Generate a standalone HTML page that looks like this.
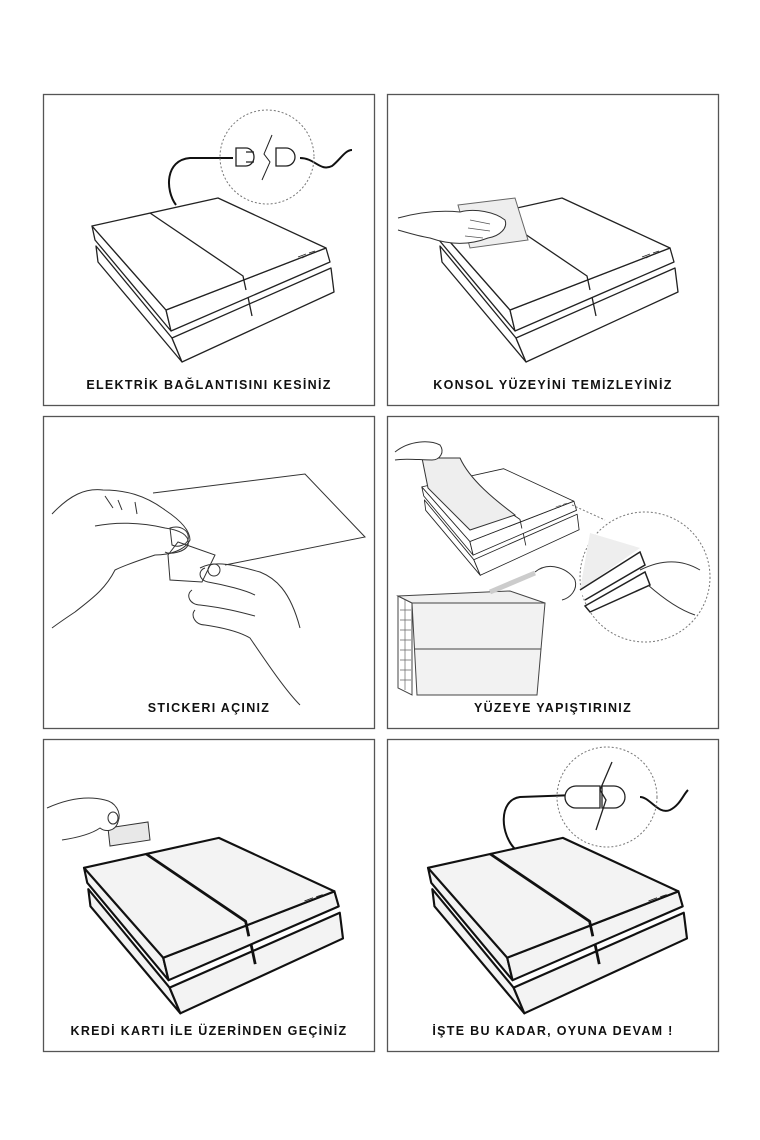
<!DOCTYPE html>
<html><head><meta charset="utf-8"><style>
html,body{margin:0;padding:0;background:#fff}
svg{display:block}
text{font-family:"Liberation Sans",sans-serif;font-weight:bold;font-size:12.5px;letter-spacing:1.3px;fill:#111}
</style></head><body>
<svg width="760" height="1140" viewBox="0 0 760 1140" xmlns="http://www.w3.org/2000/svg">
<defs>
<g id="ps4" fill="#fff" stroke="#222" stroke-width="1.3" stroke-linejoin="round">
<path d="M96,246 L172,338 L182,362 L98,262 Z"/>
<path d="M172,338 L331,268 L334,292 L182,362 Z"/>
<path d="M92,226 L166,310 L171,331 L95,240 Z"/>
<path d="M166,310 L326,248 L330,262 L171,331 Z"/>
<path d="M92,226 L218,198 L326,248 L166,310 Z"/>
<path d="M150,213 L243,276 L246,290 M248,297 L252,316" fill="none"/>
<path d="M298,257 l8,-3 M302,258 l6,-3 M309,253 l6,-2" stroke-width="0.7" fill="none"/>
</g>
<g id="ps4d" fill="#f3f3f3" stroke="#111" stroke-width="2" stroke-linejoin="round">
<path d="M96,246 L172,338 L182,362 L98,262 Z"/>
<path d="M172,338 L331,268 L334,292 L182,362 Z"/>
<path d="M92,226 L166,310 L171,331 L95,240 Z"/>
<path d="M166,310 L326,248 L330,262 L171,331 Z"/>
<path d="M92,226 L218,198 L326,248 L166,310 Z"/>
<path d="M150,213 L243,276 L246,290 M248,297 L252,316" fill="none" stroke-width="2.6"/>
<path d="M298,257 l8,-3 M302,258 l6,-3 M309,253 l6,-2" stroke-width="0.7" fill="none"/>
</g>
</defs>
<g fill="none" stroke="#555" stroke-width="1.3">
<rect x="43.5" y="94.5" width="331" height="311"/>
<rect x="387.5" y="94.5" width="331" height="311"/>
<rect x="43.5" y="416.5" width="331" height="312"/>
<rect x="387.5" y="416.5" width="331" height="312"/>
<rect x="43.5" y="739.5" width="331" height="312"/>
<rect x="387.5" y="739.5" width="331" height="312"/>
</g>

<!-- Panel 1 -->
<path d="M176,205 C165,190 165,160 190,158 L233,158 M300,158 C315,158 320,172 332,166 C340,160 345,150 352,150" fill="none" stroke="#111" stroke-width="2"/>
<circle cx="267" cy="157" r="47" fill="none" stroke="#777" stroke-width="1" stroke-dasharray="2,2"/>
<path d="M236,148 h10 a8,9 0 0 1 0,18 h-10 z M246,152 h8 M246,162 h8" fill="#fff" stroke="#222" stroke-width="1.3"/>
<path d="M286,148 h-10 v18 h10 a9,9 0 0 0 0,-18z" fill="#fff" stroke="#222" stroke-width="1.3"/>
<path d="M272,135 L264,154 L270,162 L262,180" fill="none" stroke="#222" stroke-width="1"/>
<use href="#ps4"/>
<text x="209" y="389" text-anchor="middle">ELEKTRİK BAĞLANTISINI KESİNİZ</text>

<!-- Panel 2 -->
<use href="#ps4" transform="translate(344,0)"/>
<path d="M458,205 L515,198 L528,240 L470,248 Z" fill="#eee" stroke="#666" stroke-width="1"/>
<path d="M398,218 C420,212 440,210 460,212 C475,208 495,212 505,220 C508,228 500,236 488,238 C470,245 450,245 430,238 C418,236 405,232 398,230" fill="#fff" stroke="#333" stroke-width="1"/>
<path d="M470,220 l20,4 M468,228 l22,3 M465,236 l18,2" stroke="#555" stroke-width="0.8"/>
<text x="553" y="389" text-anchor="middle">KONSOL YÜZEYİNİ TEMİZLEYİNİZ</text>

<!-- Panel 3 -->
<path d="M153,493 L305,474 L365,537 L225,565" fill="none" stroke="#333" stroke-width="1"/>
<path d="M168,555 L178,542 L215,555 L202,582 L170,580 Z" fill="#fff" stroke="#333" stroke-width="1"/>
<g fill="none" stroke="#333" stroke-width="1">
<path d="M52,514 C70,495 85,488 103,490 C125,490 145,495 165,510 C180,520 190,530 190,540 C185,550 170,555 155,555 C140,560 125,565 115,570 C105,590 90,600 75,612 C60,622 52,628 52,628"/>
<path d="M95,526 C115,522 140,522 165,528 C180,530 190,535 188,545 C185,552 170,555 165,552"/>
<path d="M170,528 C180,525 190,530 188,540 C186,545 178,548 172,545 Z"/>
<path d="M105,496 l8,12 M118,500 l4,10 M135,502 l2,12"/>
<path d="M200,568 C215,560 235,565 260,572 C275,578 290,590 300,628"/>
<path d="M205,568 C198,570 198,580 208,582 C225,585 245,590 255,595"/>
<path d="M192,590 C185,595 190,605 200,605 C225,608 240,612 255,616"/>
<path d="M195,610 C190,615 195,625 205,625 C225,628 240,632 250,638 C265,660 285,690 300,705"/>
<path d="M208,570 a6,6 0 1 0 12,0 a6,6 0 1 0 -12,0"/>
</g>
<text x="209" y="712" text-anchor="middle">STICKERI AÇINIZ</text>

<!-- Panel 4 -->
<use href="#ps4" transform="translate(362,340) scale(0.65)"/>
<path d="M422,458 L460,458 C470,480 495,500 515,515 L470,530 L428,488 Z" fill="#eee" stroke="#333" stroke-width="1"/>
<path d="M395,452 C410,440 430,440 440,445 C445,452 440,460 432,460 C420,460 405,458 395,460" fill="#fff" stroke="#333" stroke-width="1"/>
<path d="M572,505 L605,520" stroke="#777" stroke-width="1" stroke-dasharray="2,2"/>
<circle cx="645" cy="577" r="65" fill="none" stroke="#777" stroke-width="1" stroke-dasharray="2,2"/>
<path d="M590,533 L640,548 L580,590 Z" fill="#eee" stroke="none"/>
<path d="M580,590 L640,552 L645,565 L585,600 M585,606 L645,572 L650,585 L590,612 Z" fill="#fff" stroke="#222" stroke-width="1.5"/>
<path d="M640,570 C660,560 680,558 700,570 M648,585 C665,600 680,610 695,615" fill="none" stroke="#333" stroke-width="1"/>
<path d="M398,596 L412,603 L412,695 L398,688 Z" fill="#fff" stroke="#444" stroke-width="1"/>
<path d="M398,596 L510,591 L545,603 L412,603 Z" fill="#f0f0f0" stroke="#444" stroke-width="1"/>
<path d="M412,603 L545,603 L537,695 L417,695 Z" fill="#f2f2f2" stroke="#444" stroke-width="1"/>
<path d="M414,649 L541,649" stroke="#444" stroke-width="1"/>
<path d="M400,610 h11 M400,620 h11 M400,630 h11 M400,640 h11 M400,650 h11 M400,660 h11 M400,670 h11 M400,680 h11 M405,600 v90" stroke="#666" stroke-width="0.7"/>
<path d="M490,592 L535,573" stroke="#ccc" stroke-width="5"/>
<path d="M535,572 C550,560 570,570 575,580 C578,590 570,598 562,600" fill="none" stroke="#333" stroke-width="1"/>
<text x="553" y="712" text-anchor="middle">YÜZEYE YAPIŞTIRINIZ</text>

<!-- Panel 5 -->
<use href="#ps4d" transform="translate(-14.4,626) scale(1.07)"/>
<path d="M108,828 L148,822 L150,840 L110,846 Z" fill="#e8e8e8" stroke="#333" stroke-width="1"/>
<path d="M47,808 C65,800 85,795 105,800 C115,802 122,812 118,822 C115,832 105,832 100,828 C90,835 75,838 62,840" fill="#fff" stroke="#333" stroke-width="1"/>
<path d="M108,818 a5,6 0 1 0 10,0 a5,6 0 1 0 -10,0" fill="none" stroke="#333" stroke-width="1"/>
<text x="209" y="1035" text-anchor="middle">KREDİ KARTI İLE ÜZERİNDEN GEÇİNİZ</text>

<!-- Panel 6 -->
<path d="M516,850 C500,835 498,800 520,797 L576,795 M640,797 C650,797 658,815 670,810 C680,805 683,795 688,790" fill="none" stroke="#111" stroke-width="2"/>
<circle cx="607" cy="797" r="50" fill="none" stroke="#777" stroke-width="1" stroke-dasharray="2,2"/>
<path d="M576,786 h24 v22 h-24 a11,11 0 0 1 0,-22z" fill="#fff" stroke="#222" stroke-width="1.3"/>
<path d="M602,786 h12 a11,11 0 0 1 0,22 h-12 z" fill="#fff" stroke="#222" stroke-width="1.3"/>
<path d="M612,762 L600,790 L606,800 L596,830" fill="none" stroke="#222" stroke-width="1.3"/>
<use href="#ps4d" transform="translate(329.6,626) scale(1.07)"/>
<text x="553" y="1035" text-anchor="middle">İŞTE BU KADAR, OYUNA DEVAM !</text>
</svg>
</body></html>
